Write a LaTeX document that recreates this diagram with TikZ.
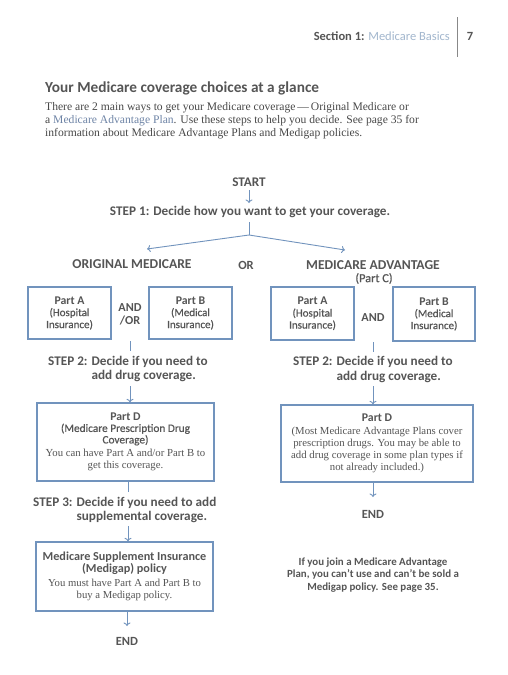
\documentclass[tikz,border=0pt]{standalone}
\usepackage{fontspec}
\setmainfont{Liberation Serif}
\newfontfamily\sans{Carlito}
\newfontfamily\sansmed[FakeBold=0.6]{Carlito}
\usetikzlibrary{arrows.meta}
\definecolor{txt}{HTML}{555555}
\definecolor{bl}{HTML}{7193BD}
\definecolor{lbl}{HTML}{A3B7CE}
\definecolor{linkc}{HTML}{6E84A6}
\begin{document}
\begin{tikzpicture}[x=1pt,y=-1pt,
 lab/.style={font=\sans\bfseries\fontsize{13.2}{14.5}\selectfont, text=txt, inner sep=1pt},
 boxx/.style={draw=bl, line width=1.3pt, inner sep=2pt, align=center, text=txt},
 bsans/.style={font=\sansmed\fontsize{11}{12}\selectfont},
 note/.style={font=\sans\bfseries\fontsize{10.9}{12.8}\selectfont, text=txt, align=center, inner sep=1pt},
 arr/.style={draw=bl, line width=0.9pt, -{To[length=3.5pt,width=7pt]}},
 ln/.style={draw=bl, line width=0.9pt}]
\useasboundingbox[fill=white] (0,0) rectangle (508,675);

% header
\node[anchor=east, inner sep=0pt, font=\sans\fontsize{12.5}{14}\selectfont] (hdr) at (450,36)
  {\textcolor{txt}{\bfseries Section 1:} \textcolor{lbl}{Medicare Basics}};
\node[inner sep=0pt, font=\sans\bfseries\fontsize{12.5}{14}\selectfont, text=txt] (pnum) at (470,36) {7};
\draw[txt!70, line width=0.8pt] (457,17) -- (457,57);

% title and intro
\node[anchor=west, inner sep=0pt, font=\sans\bfseries\fontsize{15.3}{17}\selectfont, text=txt] (title) at (45,88)
  {Your Medicare coverage choices at a glance};
\node[anchor=west, inner sep=0pt, align=left, font=\fontsize{11.6}{12.8}\selectfont, text=txt!85!black] (intro) at (45,121)
  {There are 2 main ways to get your Medicare coverage\,---\,Original Medicare or\\
   a \textcolor{linkc}{Medicare Advantage Plan}. Use these steps to help you decide. See page 35 for\\
   information about Medicare Advantage Plans and Medigap policies.};

% top of chart
\node[lab] (start) at (249,182) {START};
\node[lab] (step1) at (250,212) {STEP 1: Decide how you want to get your coverage.};
\coordinate (s0) at (249,190);
\coordinate (s1) at (249,203);
\coordinate (split0) at (249,222);
\coordinate (split) at (249,235);
\coordinate (toorig) at (147,249);
\coordinate (toma) at (345,250);
\draw[arr] (s0) -- (s1);
\draw[ln] (split0) -- (split);
\draw[arr] (split) -- (toorig);
\draw[arr] (split) -- (toma);

\node[lab, font=\sans\bfseries\fontsize{13.6}{15}\selectfont] (orig) at (132,264) {ORIGINAL MEDICARE};
\node[lab, font=\sans\bfseries\fontsize{12.5}{15}\selectfont] (or) at (246,265) {OR};
\node[lab, font=\sans\bfseries\fontsize{13.6}{15}\selectfont] (ma) at (373,265) {MEDICARE ADVANTAGE};
\node[inner sep=1pt, font=\sansmed\fontsize{12.3}{13}\selectfont, text=txt] (partc) at (374,278.5) {(Part C)};

% Part A / Part B boxes
\node[boxx, bsans, minimum width=83pt, minimum height=52pt] (lA) at (69.5,313)
  {{\sans\bfseries\fontsize{11.8}{12}\selectfont Part A}\\(Hospital\\Insurance)};
\node[boxx, bsans, minimum width=83pt, minimum height=52pt] (lB) at (190.5,313)
  {{\sans\bfseries\fontsize{11.8}{12}\selectfont Part B}\\(Medical\\Insurance)};
\node[boxx, bsans, minimum width=83pt, minimum height=53pt] (rA) at (312.5,313.5)
  {{\sans\bfseries\fontsize{11.8}{12}\selectfont Part A}\\(Hospital\\Insurance)};
\node[boxx, bsans, minimum width=82pt, minimum height=54pt] (rB) at (434,314)
  {{\sans\bfseries\fontsize{11.8}{12}\selectfont Part B}\\(Medical\\Insurance)};
\node[lab, align=center, font=\sans\bfseries\fontsize{12.2}{12.5}\selectfont] (andor) at (130,314.5) {AND\\/OR};
\node[lab, font=\sans\bfseries\fontsize{12.2}{12.5}\selectfont] (and) at (373,318) {AND};

% ticks to step 2
\coordinate (tl1) at (130,341);
\coordinate (tl2) at (130,351);
\coordinate (tr1) at (373,342);
\coordinate (tr2) at (373,352);
\draw[ln] (tl1) -- (tl2);
\draw[ln] (tr1) -- (tr2);

\node[lab, anchor=west, align=left] (step2l) at (47,369)
  {STEP 2: Decide if you need to\\\phantom{STEP 2: }add drug coverage.};
\node[lab, anchor=west, align=left] (step2r) at (292,369.5)
  {STEP 2: Decide if you need to\\\phantom{STEP 2: }add drug coverage.};

% Part D boxes
\node[boxx, minimum width=177pt, minimum height=78pt] (pdl) at (125.5,442)
  {{\sans\bfseries\fontsize{11.8}{12}\selectfont Part D}\\[-0.5pt]
   {\sansmed\fontsize{11.3}{12}\selectfont (Medicare Prescription Drug}\\[-0.5pt]
   {\sansmed\fontsize{11.3}{12}\selectfont Coverage)}\\[1.5pt]
   {\fontsize{10.75}{12}\selectfont You can have Part A and/or Part B to}\\
   {\fontsize{10.75}{12}\selectfont get this coverage.}};
\node[boxx, minimum width=192pt, minimum height=77pt] (pdr) at (377,443.5)
  {{\sans\bfseries\fontsize{11.8}{12}\selectfont Part D}\\[1.5pt]
   {\fontsize{10.75}{12}\selectfont (Most Medicare Advantage Plans cover}\\
   {\fontsize{10.75}{12}\selectfont prescription drugs. You may be able to}\\
   {\fontsize{10.75}{12}\selectfont add drug coverage in some plan types if}\\
   {\fontsize{10.75}{12}\selectfont not already included.)}};

\coordinate (al) at (130,386);
\coordinate (ar) at (373,386);
\draw[arr] (al) -- (pdl.north -| al);
\draw[arr] (ar) -- (pdr.north -| ar);

% left column continued
\node[lab, anchor=west, align=left] (step3) at (32,510)
  {STEP 3: Decide if you need to add\\\phantom{STEP 3: }supplemental coverage.};
\coordinate (c1) at (128,492);
\coordinate (c2) at (128,526);
\draw[ln] (pdl.south -| c1) -- (c1);
\node[boxx, minimum width=177pt, minimum height=69pt] (mg) at (124.5,576.5)
  {{\sans\bfseries\fontsize{12.2}{13}\selectfont Medicare Supplement Insurance}\\
   {\sans\bfseries\fontsize{12.2}{13}\selectfont (Medigap) policy}\\[1.5pt]
   {\fontsize{10.7}{12.5}\selectfont You must have Part A and Part B to}\\
   {\fontsize{10.7}{12.5}\selectfont buy a Medigap policy.}};
\draw[arr] (c2) -- (mg.north -| c2);
\node[lab, font=\sans\bfseries\fontsize{12.5}{14}\selectfont] (endl) at (127,641.5) {END};
\coordinate (c3) at (127,626);
\draw[arr] (mg.south -| c3) -- (c3);

% right column end
\node[lab, font=\sans\bfseries\fontsize{12.5}{14}\selectfont] (endr) at (373,514) {END};
\coordinate (r3) at (373,497);
\draw[arr] (pdr.south -| r3) -- (r3);

\node[note] (mnote) at (373,575)
  {If you join a Medicare Advantage\\Plan, you can’t use and can’t be sold a\\Medigap policy. See page 35.};
\end{tikzpicture}
\end{document}
